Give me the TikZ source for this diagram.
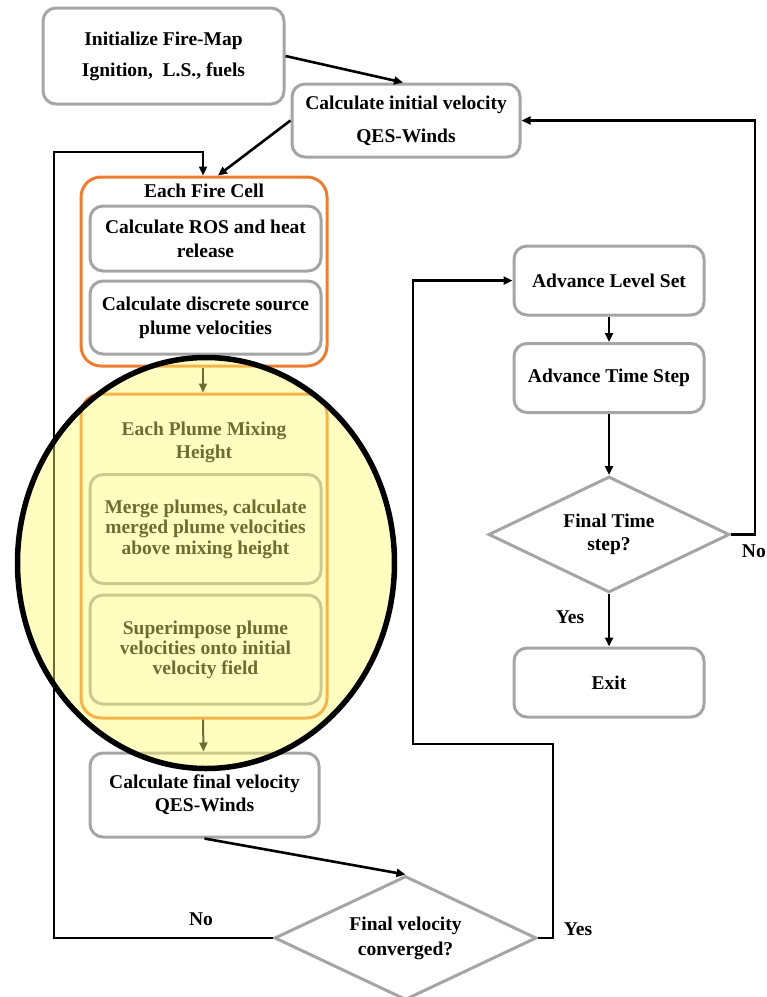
\documentclass[tikz,border=0pt]{standalone}
\usepackage{fontspec}
\setmainfont{Liberation Serif}
\usetikzlibrary{arrows.meta,shapes.geometric}
\definecolor{boxgray}{RGB}{165,165,165}
\definecolor{fireorange}{RGB}{237,125,49}
\definecolor{hiyellow}{RGB}{255,252,110}
\newcommand{\fsz}[1]{\fontsize{19.5}{#1}\selectfont\bfseries}
\begin{document}
\begin{tikzpicture}[x=1pt,y=-1pt,
  box/.style={draw=boxgray, line width=3pt, rounded corners=13pt, align=center, inner sep=0pt},
  obox/.style={draw=fireorange, line width=3pt, rounded corners=20pt, inner sep=0pt},
  dia/.style={draw=boxgray, line width=3pt, shape=diamond, aspect=2, align=center, inner sep=0pt},
  arr/.style={draw=black, line width=2.6pt, -{Triangle[length=9pt,width=8pt]}},
  lbl/.style={font=\fsz{24}, inner sep=0pt}]
\useasboundingbox (0,0) rectangle (767,997);

% boxes
\node[box, minimum width=241pt, minimum height=96pt, font=\fsz{31}] (init) at (163.5,56) {Initialize Fire-Map\\Ignition,~~L.S., fuels};
\node[box, minimum width=228pt, minimum height=73pt, font=\fsz{33}] (cinit) at (406,120.5) {Calculate initial velocity\\QES-Winds};
\node[obox, minimum width=246pt, minimum height=189pt] (cell) at (204,271.5) {};
\node[lbl] (celltitle) at (204,191) {Each Fire Cell};
\node[box, minimum width=231pt, minimum height=65pt, font=\fsz{24}] (ros) at (205.5,238.5) {Calculate ROS and heat\\release};
\node[box, minimum width=231pt, minimum height=73pt, font=\fsz{24}] (disc) at (205.5,317.5) {Calculate discrete source\\plume velocities};
\node[obox, minimum width=246pt, minimum height=324pt] (plume) at (204,556) {};
\node[font=\fsz{23}, align=center, inner sep=0pt] (plumetitle) at (204,442.5) {Each Plume Mixing\\Height};
\node[box, minimum width=231pt, minimum height=109pt, font=\fsz{20.5}] (merge) at (205.5,529) {Merge plumes, calculate\\merged plume velocities\\above mixing height};
\node[box, minimum width=231pt, minimum height=109pt, font=\fsz{20}] (super) at (205.5,649.5) {Superimpose plume\\velocities onto initial\\velocity field};
\node[box, minimum width=229pt, minimum height=84pt, font=\fsz{23}] (cfinal) at (204.5,795) {Calculate final velocity\\QES-Winds};
\node[dia, minimum width=262pt, minimum height=124pt, font=\fsz{25}] (conv) at (405.5,938) {Final velocity\\converged?};
\node[box, minimum width=190pt, minimum height=69pt, font=\fsz{24}] (lset) at (609,280.5) {Advance Level Set};
\node[box, minimum width=190pt, minimum height=69pt, font=\fsz{24}] (tstep) at (609,378) {Advance Time Step};
\node[dia, minimum width=241pt, minimum height=116pt, font=\fsz{23}] (ftime) at (609,534.5) {Final Time\\step?};
\node[box, minimum width=190pt, minimum height=69pt, font=\fsz{24}] (exit) at (609,682.5) {Exit};

% labels
\node[lbl] (nol) at (201,919) {No};
\node[lbl] (yesl) at (578,929) {Yes};
\node[lbl, anchor=east] (no2) at (766,551) {No};
\node[lbl] (yes2) at (570,617) {Yes};

% connectors
\coordinate (lx) at (54,152);
\coordinate (ya) at (553,744);
\coordinate (yb) at (413,744);
\coordinate (nx) at (755,120.5);
\draw[arr] (init.east) -- ([xshift=-3pt]cinit.north);
\draw[arr] (cinit.west) -- ([xshift=14pt]cell.north);
\draw[arr] (conv.west) -| (lx) -| ([xshift=-1pt]cell.north);
\draw[arr] (conv.east) -| (ya) -- (yb) |- (lset.west);
\draw[arr] (ftime.east) -| (nx) -- (cinit.east);
\draw[arr] (lset.south) -- (tstep.north);
\draw[arr] (tstep.south) -- (ftime.north);
\draw[arr] (ftime.south) -- (exit.north);
\draw[arr] (cfinal.south) -- (conv.north);
\draw[arr, line width=2pt] ([xshift=-1pt]cell.south) -- ([xshift=-1pt]plume.north);
\draw[arr, line width=2pt] ([xshift=-1pt]plume.south) -- ([xshift=-1pt]cfinal.north);

% highlight overlay
\fill[hiyellow, fill opacity=0.43] (206,563) ellipse [x radius=188.5pt, y radius=205.5pt];
\draw[black, line width=5.5pt] (206,563) ellipse [x radius=188.5pt, y radius=205.5pt];
\end{tikzpicture}
\end{document}
